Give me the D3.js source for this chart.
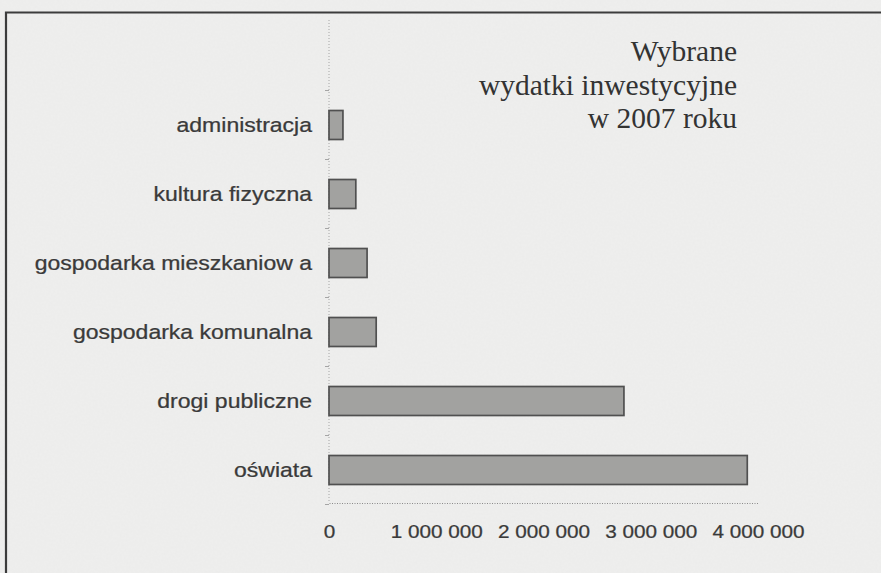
<!DOCTYPE html>
<html>
<head>
<meta charset="utf-8">
<script src="https://cdn.jsdelivr.net/npm/d3@7"></script>
<style>
  html, body { margin: 0; padding: 0; background: #eeeeed; }
  svg { display: block; }
</style>
</head>
<body>
<svg id="chart" width="881" height="573"></svg>
<script>
// dane (zł)
var categories = ['administracja', 'kultura fizyczna', 'gospodarka mieszkaniow a',
    'gospodarka komunalna', 'drogi publiczne', 'oświata'];
var values = [130000, 250000, 355000, 440000, 2750000, 3900000];
var tickValues = [0, 1000000, 2000000, 3000000, 4000000];
var tickLabels = ['0', '1 000 000', '2 000 000', '3 000 000', '4 000 000'];
var titleLines = ['Wybrane', 'wydatki inwestycyjne', 'w 2007 roku'];

var W = 881, H = 573, stretch = 1.18;
var svg = d3.select('#chart');

// tło papieru z lekkim szumem jak na skanie
var defs = svg.append('defs');
var f = defs.append('filter').attr('id', 'paper').attr('x', 0).attr('y', 0).attr('width', 1).attr('height', 1);
f.append('feTurbulence').attr('type', 'fractalNoise').attr('baseFrequency', 0.45).attr('numOctaves', 2).attr('seed', 3);
f.append('feColorMatrix').attr('type', 'matrix')
    .attr('values', '0 0 0 0 0.55  0 0 0 0 0.55  0 0 0 0 0.55  0 0 0 0.08 0');
svg.append('rect').attr('width', W).attr('height', H).attr('fill', '#efefee');
svg.append('rect').attr('width', W).attr('height', H).attr('filter', 'url(#paper)');

// ramka (górna i lewa krawędź)
svg.append('path')
    .attr('d', 'M6,' + H + 'V12.5H' + W)
    .attr('fill', 'none').attr('stroke', '#3c3c3c').attr('stroke-width', 2.2);

var x = d3.scaleLinear().domain([0, 4000000]).range([329, 758]);
var y = d3.scaleBand().domain(categories).range([90.5, 504.5])
    .paddingInner(0.58).paddingOuter(0.29);

// pionowa linia osi (kropkowana)
svg.append('line')
    .attr('x1', x(0)).attr('x2', x(0)).attr('y1', 20).attr('y2', 503)
    .attr('stroke', '#a5a5a5').attr('stroke-width', 1).attr('stroke-dasharray', '1,2');

// drobne kreski między kategoriami
svg.append('g').selectAll('line')
    .data(d3.range(categories.length + 1))
    .enter().append('line')
    .attr('x1', x(0) - 4).attr('x2', x(0))
    .attr('y1', i => 90.5 + i * y.step()).attr('y2', i => 90.5 + i * y.step())
    .attr('stroke', '#a5a5a5');

// słupki
svg.append('g').selectAll('rect')
    .data(values)
    .enter().append('rect')
    .attr('x', x(0))
    .attr('y', (d, i) => y(categories[i]))
    .attr('width', d => x(d) - x(0))
    .attr('height', y.bandwidth())
    .attr('fill', '#a2a2a0')
    .attr('stroke', '#505050')
    .attr('stroke-width', 1.7);

// etykiety kategorii
var yAxis = svg.append('g')
    .attr('transform', 'translate(' + x(0) + ',0)')
    .call(d3.axisLeft(y).tickSize(0).tickPadding(17));
yAxis.select('.domain').remove();
yAxis.selectAll('text')
    .attr('font-family', 'Liberation Sans, Arial, sans-serif')
    .attr('font-size', 19.5)
    .attr('fill', '#3a3a3a')
    .attr('stroke', '#3a3a3a').attr('stroke-width', 0.25)
    .attr('dy', '0.36em')
    .attr('transform', 'scale(' + stretch + ',1) translate(' + (-17 * (1 / stretch - 1)) + ',0)');

// oś X
var xAxis = svg.append('g')
    .attr('transform', 'translate(0,503)')
    .call(d3.axisBottom(x).tickValues(tickValues)
        .tickFormat((d, i) => tickLabels[i]).tickSize(0).tickPadding(22));
xAxis.select('.domain')
    .attr('stroke', '#8a8a8a').attr('stroke-dasharray', '1,1.5');
xAxis.selectAll('text')
    .attr('font-family', 'Liberation Sans, Arial, sans-serif')
    .attr('font-size', 18.5)
    .attr('fill', '#3a3a3a')
    .attr('stroke', '#3a3a3a').attr('stroke-width', 0.25)
    .attr('transform', 'scale(1.12,1)');

// tytuł
svg.append('g').selectAll('text')
    .data(titleLines)
    .enter().append('text')
    .attr('x', 737)
    .attr('y', (d, i) => 61 + i * 33.5)
    .attr('text-anchor', 'end')
    .attr('font-family', 'Liberation Serif, Times New Roman, serif')
    .attr('font-size', 29.5)
    .attr('fill', '#333')
    .text(d => d);
</script>
</body>
</html>
